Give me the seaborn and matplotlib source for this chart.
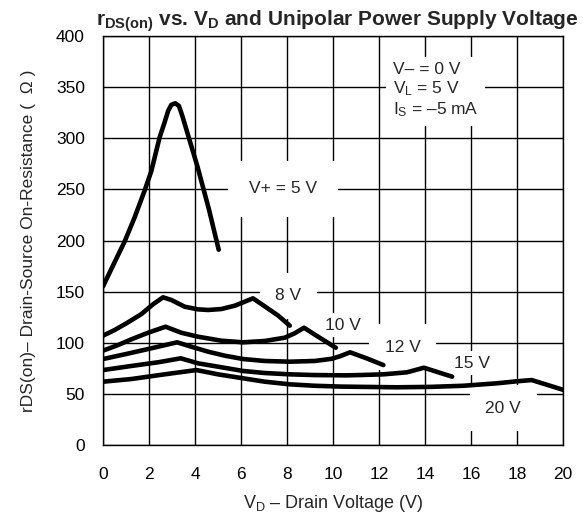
import matplotlib
matplotlib.use("Agg")
import matplotlib.pyplot as plt
import seaborn as sns
import pandas as pd

# ---- data ----
vd_5 = [0, 0.36, 0.94, 1.38, 1.81, 2.10, 2.46, 2.68, 2.83, 2.97, 3.14, 3.30, 3.45,
        4.10, 4.60, 5.03]
r_5 = [155, 172, 199, 223, 249, 268, 301, 316, 327, 333, 334.5, 332, 322,
       273, 231, 191]

vd_8 = [0, 0.51, 1.09, 1.67, 2.17, 2.61, 2.97, 3.55, 4.13, 4.57, 5.14, 5.73, 6.16,
        6.52, 7.03, 7.61, 8.12]
r_8 = [106.7, 112.3, 119.8, 127.9, 137.4, 144.3, 141.7, 135.1, 132.5, 131.9, 132.8,
       136.1, 140, 143.3, 135.5, 126.5, 116.5]

vd_10 = [0, 0.65, 1.23, 1.96, 2.72, 3.40, 4.13, 5.14, 6.09, 7.03, 7.90, 8.33, 8.74,
         9.35, 10.12]
r_10 = [92, 97.5, 103.1, 109.6, 115.5, 109.6, 105.7, 101.8, 100.2, 101.5, 104.7, 109,
        114.5, 105.7, 94.9]

vd_12 = [0, 0.94, 1.96, 3.22, 3.84, 4.57, 5.29, 6.09, 7.03, 8.12, 9.20, 9.93, 10.3,
         10.74, 11.46, 12.19]
r_12 = [83.8, 88.4, 93.6, 100.2, 95.9, 91, 87.1, 83.8, 81.9, 81.2, 81.9, 84, 86.5,
        90.4, 84.5, 77.9]

vd_15 = [0, 1.23, 2.39, 3.38, 4.13, 5.0, 6.09, 7.03, 8.12, 9.20, 10.58, 11.32, 12.19,
         13.22, 13.95, 15.18]
r_15 = [73, 77, 80.6, 84.5, 79.6, 76.3, 72.1, 70.1, 68.8, 68.1, 67.8, 68.2, 68.8,
        70.8, 75.3, 66.5]

vd_20 = [0, 1.23, 2.68, 4.06, 5.0, 6.09, 7.03, 8.12, 9.2, 10.3, 11.32, 12.77, 14.22,
         15.67, 17.12, 18.0, 18.64, 20.01]
r_20 = [61.6, 64.2, 68.8, 73, 68.8, 64.9, 61.6, 59, 57.6, 56.8, 56.5, 56.1, 56.5,
        57.6, 60, 62, 63.2, 53.6]

supplies = ["5", "8", "10", "12", "15", "20"]
curve_labels = ["V+ = 5 V", "8 V", "10 V", "12 V", "15 V", "20 V"]
x_ticks = list(range(0, 21, 2))
y_ticks = list(range(0, 401, 50))

frames = []
for s, xs, ys in zip(supplies, [vd_5, vd_8, vd_10, vd_12, vd_15, vd_20],
                     [r_5, r_8, r_10, r_12, r_15, r_20]):
    frames.append(pd.DataFrame({"VD": xs, "R": ys, "supply": s}))
df = pd.concat(frames, ignore_index=True)

# ---- style ----
sns.set_theme(style="white")
plt.rcParams["font.family"] = ["Liberation Sans", "DejaVu Sans"]
plt.rcParams["mathtext.fontset"] = "custom"
plt.rcParams["mathtext.rm"] = "Liberation Sans"
plt.rcParams["mathtext.it"] = "Liberation Sans:italic"
plt.rcParams["mathtext.bf"] = "Liberation Sans:bold"

fig = plt.figure(figsize=(5.83, 5.25), dpi=100)
ax = fig.add_axes([0.1767, 0.1533, 0.789, 0.7772])

sns.lineplot(data=df, x="VD", y="R", hue="supply", hue_order=supplies,
             palette=["black"] * len(supplies), sort=False, estimator=None,
             legend=False, linewidth=3.3, ax=ax, zorder=5)
for ln in ax.get_lines():
    ln.set_solid_joinstyle("round")
    ln.set_solid_capstyle("round")

ax.set_xlim(0, 20)
ax.set_ylim(0, 400)
ax.set_xticks(x_ticks)
ax.set_yticks(y_ticks)
ax.set_xticklabels([str(v) for v in x_ticks])
ax.set_yticklabels([str(v) for v in y_ticks])
ax.tick_params(axis="both", length=0, labelsize=12.5, colors="black")
ax.tick_params(axis="x", pad=16)
ax.tick_params(axis="y", pad=13)
ax.grid(True, color="black", linewidth=1.0)
ax.set_axisbelow(True)
for sp in ax.spines.values():
    sp.set_color("black")
    sp.set_linewidth(1.0)

ax.set_xlabel(r"V$_{\mathrm{D}}$ – Drain Voltage (V)", fontsize=13, labelpad=8)
ax.set_ylabel("rDS(on)– Drain-Source On-Resistance (  Ω )", fontsize=12.5, labelpad=14)
ax.set_title(r"r$_{\mathbf{DS(on)}}$ vs. V$_{\mathbf{D}}$ and Unipolar Power Supply Voltage",
             fontsize=15, fontweight="bold", pad=8, x=0.51)

# curve labels with white boxes over the grid
label_pos = [(7.83, 250.5, 1.2), (8.06, 145.6, 0.9), (10.45, 117, 0.25),
             (13.03, 95.3, 0.9), (16.06, 79.6, 0.25), (17.4, 35.5, 0.9)]
for txt, (lx, ly, pd_) in zip(curve_labels, label_pos):
    ax.text(lx, ly, txt, fontsize=12.5, ha="center", va="center", zorder=3,
            bbox=dict(boxstyle=f"square,pad={pd_}", facecolor="white", edgecolor="none"))

ax.text(12.6, 375, "V– = 0 V\nV$_{\\mathrm{L}}$ = 5 V\nI$_{\\mathrm{S}}$ = –5 mA",
        fontsize=12.5, ha="left", va="top", linespacing=1.15, zorder=3,
        bbox=dict(boxstyle="square,pad=0.4", facecolor="white", edgecolor="none"))

fig.savefig("out.png", dpi=100)
